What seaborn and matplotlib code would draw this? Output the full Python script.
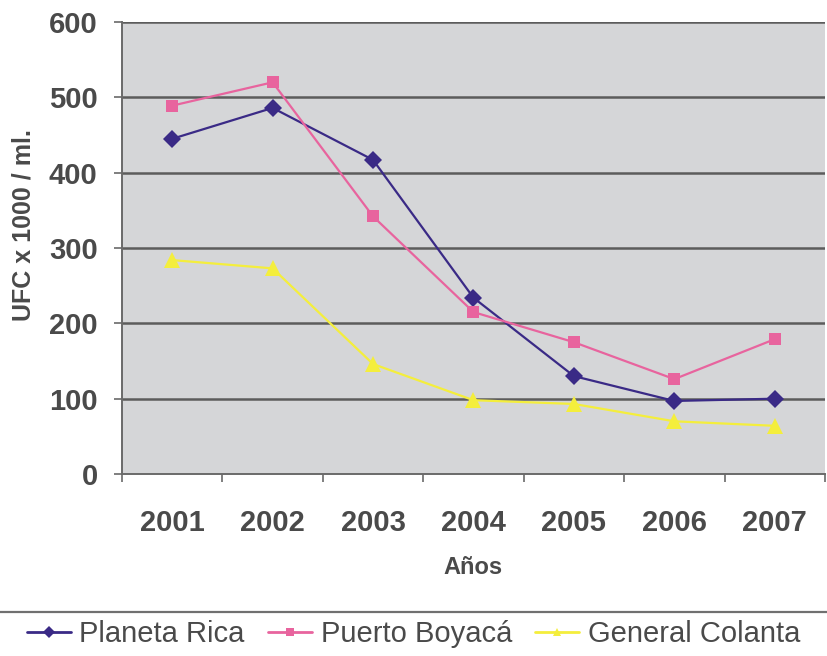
import matplotlib
matplotlib.use("Agg")
import matplotlib.pyplot as plt
from matplotlib.lines import Line2D
from matplotlib.ticker import FixedLocator
import numpy as np
import pandas as pd
import seaborn as sns

years = ["2001", "2002", "2003", "2004", "2005", "2006", "2007"]
planeta_rica = [445, 486, 417, 234, 130, 97, 100]
puerto_boyaca = [489, 520, 342, 215, 175, 126, 179]
general_colanta = [284, 273, 146, 98, 93, 70, 64]
series_names = ["Planeta Rica", "Puerto Boyacá", "General Colanta"]

df = pd.DataFrame({
    "Año": years * 3,
    "UFC": planeta_rica + puerto_boyaca + general_colanta,
    "Zona": np.repeat(series_names, len(years)),
})

sns.set_style("white")
plt.rcParams["font.family"] = ["Liberation Sans", "DejaVu Sans"]

TEXT = "#4a4a4a"
palette = {"Planeta Rica": "#3a2a86", "Puerto Boyacá": "#e8649e",
           "General Colanta": "#f4ee3c"}
markers = {"Planeta Rica": "D", "Puerto Boyacá": "s", "General Colanta": "^"}

fig = plt.figure(figsize=(8.27, 6.56), dpi=100)
ax = fig.add_axes([0.1475, 0.2774, 0.85, 0.689])
ax.set_facecolor("#d5d6d8")

sns.lineplot(data=df, x="Año", y="UFC", hue="Zona", style="Zona",
             palette=palette, markers=markers, dashes=False, markersize=9,
             markeredgewidth=0, linewidth=1.6, sort=False, ax=ax, legend=False)
for line in ax.lines:
    if line.get_marker() == "^":
        line.set_markersize(11)

ax.set_xlim(-0.5, 6.5)
ax.set_ylim(0, 600)
ax.set_yticks(range(0, 601, 100))
for y in range(100, 601, 100):
    ax.axhline(y, color="#5c5c5c", linewidth=1.8, zorder=0.5)

ax.xaxis.set_minor_locator(FixedLocator(np.arange(-0.5, 7, 1)))
ax.tick_params(axis="x", which="major", length=0, pad=25,
               labelsize=21, labelcolor=TEXT)
ax.tick_params(axis="x", which="minor", length=6, width=1.2, color="#6a6a6a",
               direction="out", bottom=True)
ax.tick_params(axis="y", length=6, width=1.2, color="#6a6a6a", pad=11.5,
               labelsize=21, labelcolor=TEXT, left=True)
for lab in ax.get_xticklabels() + ax.get_yticklabels():
    lab.set_fontweight("bold")

for side in ["top", "right"]:
    ax.spines[side].set_visible(False)
for side in ["left", "bottom"]:
    ax.spines[side].set_color("#6a6a6a")
    ax.spines[side].set_linewidth(1.4)

ax.set_xlabel("Años", fontsize=17, fontweight="bold", color=TEXT, labelpad=14)
ax.set_ylabel("UFC x 1000 / ml.", fontsize=18, fontweight="bold", color=TEXT)
ax.yaxis.set_label_coords(-0.123, 0.551)

fig.add_artist(Line2D([0, 1], [1 - 612 / 656, 1 - 612 / 656],
                      transform=fig.transFigure, color="#707070", linewidth=1.6))

handles = [Line2D([], [], color=palette[n], marker=markers[n], markersize=6,
                  markeredgewidth=0, linewidth=2) for n in series_names]
fig.legend(handles, series_names, loc="center", bbox_to_anchor=(0.5, 1 - 634 / 656),
           ncol=3, frameon=False, fontsize=21, handlelength=1.5,
           handletextpad=0.3, columnspacing=0.8, labelcolor=TEXT)

fig.savefig("out.png", dpi=100, facecolor="white")
